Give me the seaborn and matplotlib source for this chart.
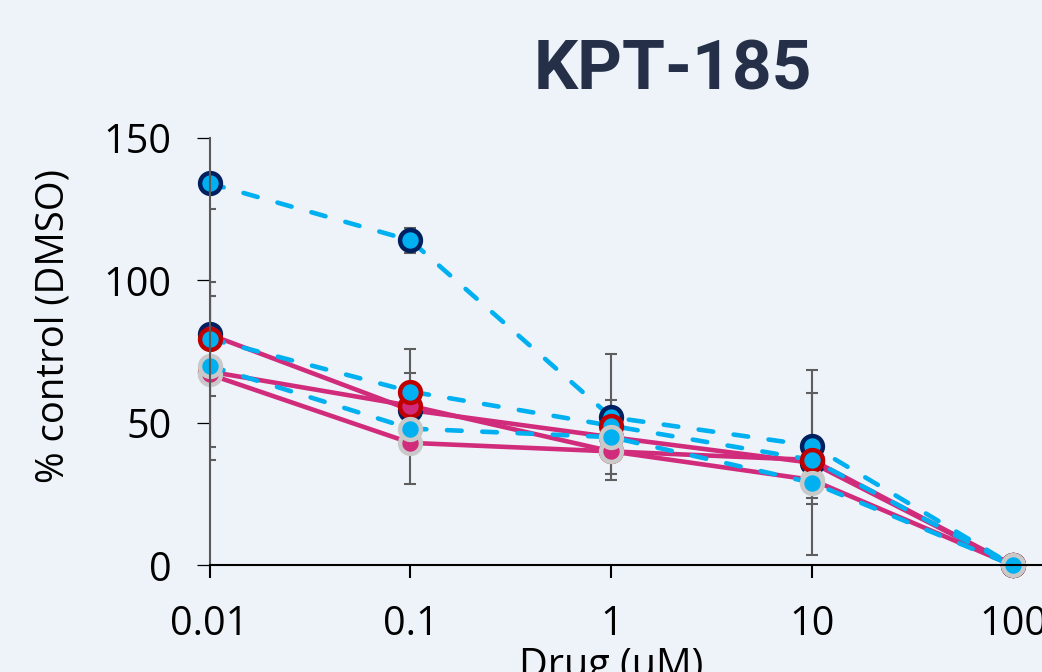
import matplotlib
matplotlib.use("Agg")
import matplotlib.pyplot as plt
import seaborn as sns
import pandas as pd

# concentrations (uM) et valeurs (% DMSO)
conc = [0.01, 0.1, 1, 10, 100]
tick_labels = ["0.01", "0.1", "1", "10", "100"]

solid_navy = [81, 54.5, 45, 36, 0]
solid_red = [68, 56, 40, 37, 0]
solid_gray = [67, 43, 40, 30, 0]
dash_navy = [134, 114, 52, 42, 0]
dash_red = [79.5, 61, 49, 37, 0]
dash_gray = [70, 48, 45, 29, 0]

err_solid_navy = [44, 2, 13, 32.4, 0]
err_solid_red = [26.5, 11.6, 2, 2, 0]
err_solid_gray = [2, 14.6, 2, 8.6, 0]
err_dash_navy = [2, 4.5, 22, 18.4, 0]
err_dash_red = [20, 15, 3, 3, 0]
err_dash_gray = [3, 3, 3, 3, 0]

MAGENTA = "#D12B7B"
CYAN = "#00B0F0"
NAVY = "#002060"
RED = "#C00000"
LGRAY = "#C9C9C9"
BG = "#EDF3F9"

DASHED = (0, (3.2, 4.5))
series = [
    (solid_navy, err_solid_navy, MAGENTA, MAGENTA, NAVY, "-"),
    (solid_red, err_solid_red, MAGENTA, MAGENTA, RED, "-"),
    (solid_gray, err_solid_gray, MAGENTA, MAGENTA, LGRAY, "-"),
    (dash_navy, err_dash_navy, CYAN, CYAN, NAVY, DASHED),
    (dash_red, err_dash_red, CYAN, CYAN, RED, DASHED),
    (dash_gray, err_dash_gray, CYAN, CYAN, LGRAY, DASHED),
]

sns.set_theme(style="ticks")
plt.rcParams["font.family"] = ["Open Sans", "DejaVu Sans"]

fig = plt.figure(figsize=(10.42, 6.72), dpi=100, facecolor=BG)
ax = fig.add_axes([0.2011, 0.1585, 0.799, 0.6366])
ax.set_facecolor("none")
ax.set_xscale("log")

for vals, errs, lcol, fcol, ecol, ls in series:
    ax.errorbar(conc, vals, yerr=errs, fmt="none", ecolor="#5E5E5E",
                elinewidth=1.5, capsize=4.3, capthick=1.5, zorder=1.5)

for i, (vals, errs, lcol, fcol, ecol, ls) in enumerate(series):
    df = pd.DataFrame({"conc": conc, "val": vals})
    sns.lineplot(data=df, x="conc", y="val", ax=ax, color=lcol,
                 linestyle=ls, lw=3.3, marker="o", markersize=15,
                 markerfacecolor=fcol, markeredgecolor=ecol,
                 markeredgewidth=3.2, dash_capstyle="round",
                 zorder=2 + i * 0.1, clip_on=False)

ax.set_xlim(0.01, 139.5)
ax.set_ylim(0, 150)
ax.set_xticks(conc)
ax.set_xticklabels(tick_labels)
ax.minorticks_off()
ax.set_yticks([0, 50, 100, 150])

ax.tick_params(axis="y", length=9.5, width=0.9, color="black", pad=18,
               labelsize=28.5, labelcolor="black")
ax.tick_params(axis="x", length=9.5, width=1.5, color="black", pad=18.5,
               labelsize=28.5, labelcolor="black")

for s in ["top", "right"]:
    ax.spines[s].set_visible(False)
ax.spines["left"].set_color("#595959")
ax.spines["left"].set_linewidth(1.5)
ax.spines["bottom"].set_color("black")
ax.spines["bottom"].set_linewidth(1.5)

ax.set_ylabel("% control (DMSO)", fontsize=27.5, color="black")
ax.yaxis.set_label_coords(-0.165, 0.56)
ax.set_xlabel("Drug (uM)", fontsize=28.5, color="black")
ax.xaxis.set_label_coords(0.482, -0.19)

fig.text(673 / 1042, (672 - 90) / 672, "KPT-185", ha="center", va="baseline",
         fontsize=50, fontweight="bold", color="#253048",
         family=["Roboto", "DejaVu Sans"])

fig.savefig("out.png", dpi=100, facecolor=BG)
